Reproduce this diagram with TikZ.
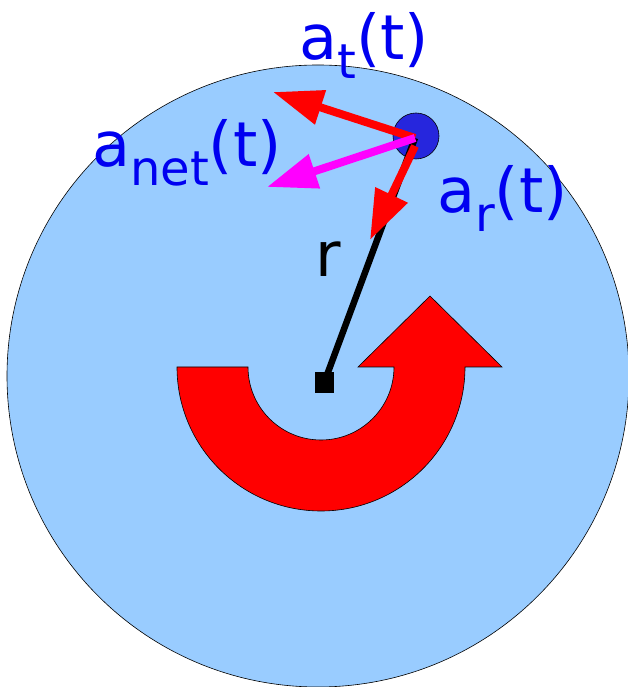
\documentclass[tikz,border=0pt]{standalone}
\usepackage{fontspec}
\setmainfont{DejaVu Sans}
\usetikzlibrary{arrows.meta}
\definecolor{disk}{RGB}{153,204,255}
\definecolor{particle}{RGB}{38,38,221}
\definecolor{lbl}{RGB}{0,0,240}
\definecolor{netcol}{RGB}{255,0,255}
\definecolor{veccol}{RGB}{255,0,0}
\tikzset{
  vec/.style={line width=8pt, -{Triangle[length=50pt,width=34pt]}},
  lab/.style={anchor=base west, inner sep=0pt, text=lbl, font=\fontsize{62}{62}\selectfont},
}
\newcommand{\subtx}[1]{\raisebox{-0.3em}{\fontsize{48}{48}\selectfont #1}}
\begin{document}
\begin{tikzpicture}[x=1pt,y=1pt]
\useasboundingbox (0,0) rectangle (628,687);
% disk
\draw[fill=disk, line width=0.6pt] (318,311) circle (311);
% rotation arrow
\draw[fill=veccol, line width=0.6pt]
  (177,320) arc[start angle=180, end angle=360, radius=144]
  -- (502,320) -- (430,391) -- (358,320) -- (394,320)
  arc[start angle=0, end angle=-180, radius=73] -- cycle;
% centre and particle
\node[fill=black, minimum width=19pt, minimum height=21pt, inner sep=0pt] (c) at (324,304) {};
\node[circle, fill=particle, draw=black, line width=0.6pt, minimum size=46pt, inner sep=0pt] (p) at (416,551) {};
\coordinate (pc) at (415,549);
\draw[line width=6.5pt] (c.center) -- (pc);
% vectors
\coordinate (at) at (273,595);
\coordinate (an) at (267,500);
\coordinate (ar0) at (415,541);
\coordinate (ar) at (370,447);
\draw[vec, veccol] (pc) -- (at);
\draw[vec, netcol] (pc) -- (an);
\draw[vec, veccol] (ar0) -- (ar);
% labels
\node[lab] (lt) at (299,627) {a\subtx{t}(t)};
\node[lab] (ln) at (92,520) {a\subtx{net}(t)};
\node[lab] (lr) at (437,474) {a\subtx{r}(t)};
\node[anchor=base west, inner sep=0pt, font=\fontsize{62}{62}\selectfont] (lrr) at (315,410) {r};
\end{tikzpicture}
\end{document}
